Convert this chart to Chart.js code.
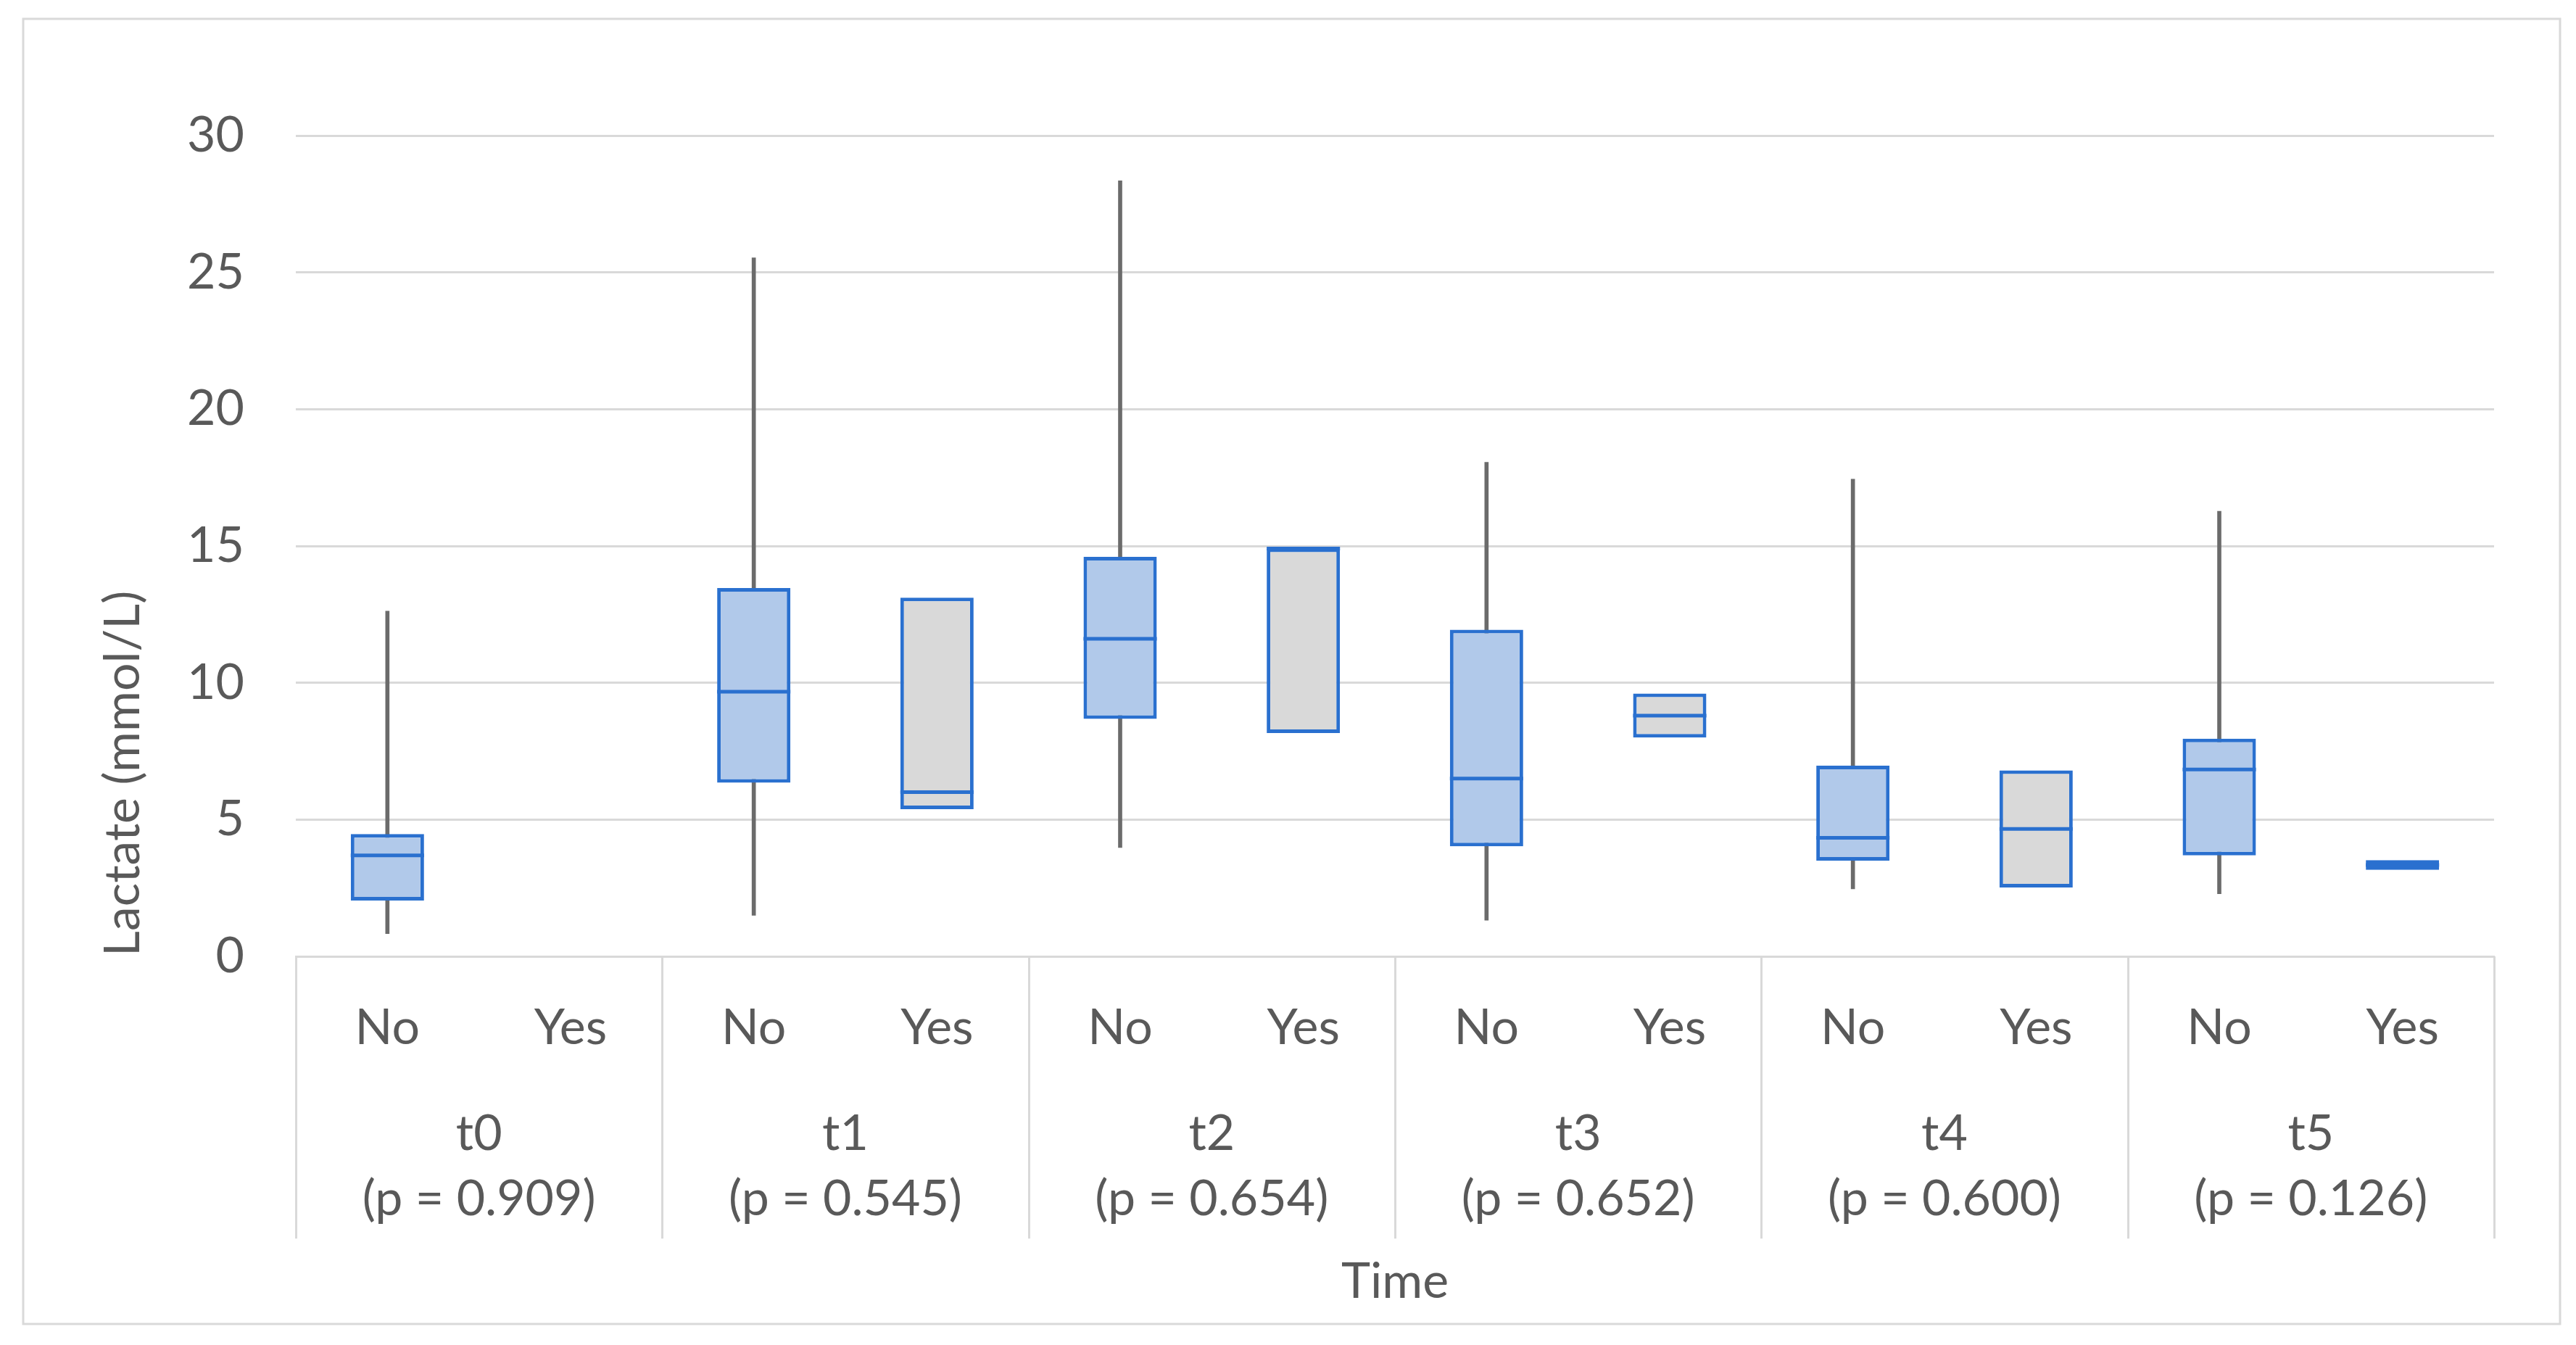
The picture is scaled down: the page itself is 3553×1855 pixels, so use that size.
<!DOCTYPE html>
<html>
<head>
<meta charset="utf-8">
<script src="https://cdn.jsdelivr.net/npm/chart.js@4.4.1/dist/chart.umd.min.js"></script>
<style>
  html, body { margin: 0; padding: 0; background: #ffffff; }
  #wrap { width: 100vw; height: 100vh; }
</style>
</head>
<body>
<div id="wrap"><canvas id="boxChart"></canvas></div>
<script>
// Categories (one box per category, two per time point)
const groups = ["No", "Yes", "No", "Yes", "No", "Yes", "No", "Yes", "No", "Yes", "No", "Yes"];
const timeLabels = ["t0", "t1", "t2", "t3", "t4", "t5"];
const pValues = ["0.909", "0.545", "0.654", "0.652", "0.600", "0.126"];

// Box plot values (mmol/L)
const whiskerMin = [0.83, null, 1.50, null, 3.98, null, 1.32, null, 2.47, null, 2.29, null];
const whiskerMax = [12.62, null, 25.53, null, 28.35, null, 18.06, null, 17.44, null, 16.27, null];
const q1 = [2.04, null, 6.35, 5.38, 8.68, 8.16, 4.02, 8.00, 3.50, 2.52, 3.69, 3.16];
const median = [3.69, null, 9.67, 6.00, 11.61, 14.91, 6.50, 8.80, 4.33, 4.66, 6.83, 3.34];
const q3 = [4.47, null, 13.46, 13.11, 14.60, 14.91, 11.94, 9.61, 6.97, 6.80, 7.96, 3.52];

const yTicks = [0, 5, 10, 15, 20, 25, 30];

const FONT = "Lato, 'Open Sans', sans-serif";
const TEXT = "#595959";
const GRID = "#d9d9d9";
const BLUE = "#2a70cf";

const x2Labels = timeLabels.map((t, i) => [t, `(p = ${pValues[i]})`]);

// medians drawn across each box, table separators and the outer frame
const boxExtras = {
  id: "boxExtras",
  beforeDraw(chart) {
    const ctx = chart.ctx;
    ctx.save();
    ctx.strokeStyle = GRID;
    ctx.lineWidth = 3;
    ctx.strokeRect(32, 26, chart.width - 54, chart.height - 55);
    ctx.restore();
  },
  afterDatasetsDraw(chart) {
    const ctx = chart.ctx;
    const meta = chart.getDatasetMeta(1);
    const y = chart.scales.y;
    ctx.save();
    ctx.strokeStyle = BLUE;
    ctx.lineWidth = 5;
    meta.data.forEach((bar, i) => {
      if (median[i] == null) return;
      const { x, width } = bar.getProps(["x", "width"], true);
      const py = y.getPixelForValue(median[i]);
      ctx.beginPath();
      ctx.moveTo(x - width / 2, py);
      ctx.lineTo(x + width / 2, py);
      ctx.stroke();
    });
    ctx.restore();
  },
  afterDraw(chart) {
    const ctx = chart.ctx;
    const xs = chart.scales.x;
    const x2 = chart.scales.x2;
    const area = chart.chartArea;
    const lh = x2.options.ticks.font.size * x2.options.ticks.font.lineHeight;
    const bottom = x2.top + x2.options.ticks.padding + 2 * lh + 10;
    const edges = [area.left];
    for (let i = 1; i < timeLabels.length; i++) {
      edges.push((xs.getPixelForTick(2 * i - 1) + xs.getPixelForTick(2 * i)) / 2);
    }
    edges.push(area.right);
    ctx.save();
    ctx.strokeStyle = GRID;
    ctx.lineWidth = 3;
    edges.forEach((ex) => {
      ctx.beginPath();
      ctx.moveTo(Math.round(ex) + 0.5, area.bottom);
      ctx.lineTo(Math.round(ex) + 0.5, bottom);
      ctx.stroke();
    });
    ctx.restore();
  }
};

new Chart(document.getElementById("boxChart").getContext("2d"), {
  type: "bar",
  data: {
    labels: groups,
    datasets: [
      {
        label: "Range",
        data: whiskerMin.map((v, i) => (v == null ? null : [v, whiskerMax[i]])),
        backgroundColor: "#6b6b6b",
        borderWidth: 0,
        barThickness: 5,
        grouped: false,
        order: 2
      },
      {
        label: "IQR",
        data: q1.map((v, i) => (v == null ? null : [v, q3[i]])),
        backgroundColor: groups.map((g) => (g === "No" ? "#b1c9ea" : "#d9d9d9")),
        borderColor: BLUE,
        borderWidth: 5,
        borderSkipped: false,
        categoryPercentage: 1,
        barPercentage: 0.4,
        grouped: false,
        order: 1
      }
    ]
  },
  options: {
    responsive: true,
    maintainAspectRatio: false,
    animation: false,
    layout: {
      padding: { left: 0, top: 187, right: 113, bottom: 0 }
    },
    plugins: {
      legend: { display: false },
      tooltip: { enabled: false }
    },
    scales: {
      y: {
        min: 0,
        max: 30,
        afterFit: (s) => { s.width = 408; },
        afterBuildTicks: (s) => { s.ticks = yTicks.map((v) => ({ value: v })); },
        grid: { color: GRID, lineWidth: 3, drawTicks: false },
        border: { display: false },
        ticks: {
          padding: 71,
          color: TEXT,
          font: { family: FONT, size: 68 }
        },
        title: {
          display: true,
          text: "Lactate (mmol/L)",
          align: "start",
          color: TEXT,
          font: { family: FONT, size: 68 },
          padding: { top: 129, bottom: 0 }
        }
      },
      x: {
        position: "bottom",
        afterFit: (s) => { s.height = 150; },
        grid: { display: false, drawTicks: false },
        border: { display: true, color: GRID, width: 3 },
        ticks: {
          padding: 58,
          color: TEXT,
          maxRotation: 0,
          autoSkip: false,
          font: { family: FONT, size: 68 }
        }
      },
      x2: {
        type: "category",
        position: "bottom",
        labels: x2Labels,
        offset: true,
        afterFit: (s) => { s.height = 386; },
        grid: { display: false, drawTicks: false },
        border: { display: false },
        ticks: {
          padding: 51,
          color: TEXT,
          maxRotation: 0,
          autoSkip: false,
          font: { family: FONT, size: 68, lineHeight: 1.31 }
        },
        title: {
          display: true,
          text: "Time",
          color: TEXT,
          font: { family: FONT, size: 68 },
          padding: { top: 0, bottom: 46 }
        }
      }
    }
  },
  plugins: [boxExtras]
});
</script>
</body>
</html>
